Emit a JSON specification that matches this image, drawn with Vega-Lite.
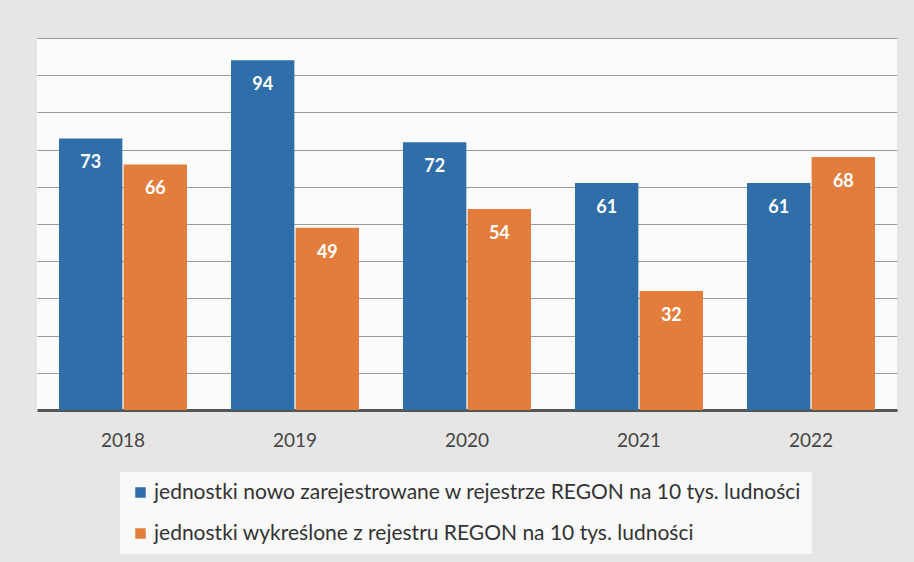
{
  "$schema": "https://vega.github.io/schema/vega-lite/v6.json",
  "autosize": {"type": "none"},
  "width": 860,
  "height": 372,
  "padding": {"left": 37, "top": 38, "right": 17, "bottom": 152},
  "background": "#e6e6e6",
  "config": {
    "view": {"fill": "#fbfbfb", "stroke": null},
    "font": "Lato"
  },
  "data": {
    "values": [
      {"rok": "2018", "seria": "jednostki nowo zarejestrowane w rejestrze REGON na 10 tys. ludności", "wartosc": 73},
      {"rok": "2018", "seria": "jednostki wykreślone z rejestru REGON na 10 tys. ludności", "wartosc": 66},
      {"rok": "2019", "seria": "jednostki nowo zarejestrowane w rejestrze REGON na 10 tys. ludności", "wartosc": 94},
      {"rok": "2019", "seria": "jednostki wykreślone z rejestru REGON na 10 tys. ludności", "wartosc": 49},
      {"rok": "2020", "seria": "jednostki nowo zarejestrowane w rejestrze REGON na 10 tys. ludności", "wartosc": 72},
      {"rok": "2020", "seria": "jednostki wykreślone z rejestru REGON na 10 tys. ludności", "wartosc": 54},
      {"rok": "2021", "seria": "jednostki nowo zarejestrowane w rejestrze REGON na 10 tys. ludności", "wartosc": 61},
      {"rok": "2021", "seria": "jednostki wykreślone z rejestru REGON na 10 tys. ludności", "wartosc": 32},
      {"rok": "2022", "seria": "jednostki nowo zarejestrowane w rejestrze REGON na 10 tys. ludności", "wartosc": 61},
      {"rok": "2022", "seria": "jednostki wykreślone z rejestru REGON na 10 tys. ludności", "wartosc": 68}
    ]
  },
  "encoding": {
    "x": {
      "field": "rok", "type": "nominal", "title": null,
      "scale": {"paddingInner": 0.256, "paddingOuter": 0.128},
      "axis": {"labelAngle": 0, "labelFontSize": 19, "labelColor": "#444", "labelPadding": 21, "ticks": false, "domainColor": "#555", "domainWidth": 3, "labelFont": "Lato"}
    },
    "xOffset": {
      "field": "seria", "type": "nominal",
      "sort": ["jednostki nowo zarejestrowane w rejestrze REGON na 10 tys. ludności", "jednostki wykreślone z rejestru REGON na 10 tys. ludności"],
      "scale": {"paddingInner": 0.02}
    },
    "y": {
      "field": "wartosc", "type": "quantitative", "title": null,
      "scale": {"domain": [0, 100], "nice": false},
      "axis": {"values": [10, 20, 30, 40, 50, 60, 70, 80, 90, 100], "labels": false, "ticks": false, "domain": false, "gridColor": "#9a9a9a", "gridWidth": 1.2}
    }
  },
  "layer": [
    {
      "mark": {"type": "bar"},
      "encoding": {
        "color": {
          "field": "seria", "type": "nominal",
          "sort": ["jednostki nowo zarejestrowane w rejestrze REGON na 10 tys. ludności", "jednostki wykreślone z rejestru REGON na 10 tys. ludności"],
          "scale": {"range": ["#2f6ea8", "#e27d3c"]},
          "legend": {
            "title": null, "orient": "none", "legendX": 83, "legendY": 434,
            "direction": "vertical", "symbolType": "square", "symbolSize": 110,
            "labelFontSize": 21, "labelColor": "#333", "labelFont": "Lato", "rowPadding": 19,
            "labelOffset": 3,
            "fillColor": "#f9f9f9", "padding": 10, "labelLimit": 800, "symbolOpacity": 1
          }
        }
      }
    },
    {
      "mark": {"type": "text", "baseline": "middle", "dy": 25, "color": "white", "fontSize": 18, "fontWeight": "bold", "font": "Lato"},
      "encoding": {"text": {"field": "wartosc", "type": "quantitative"}}
    }
  ]
}
